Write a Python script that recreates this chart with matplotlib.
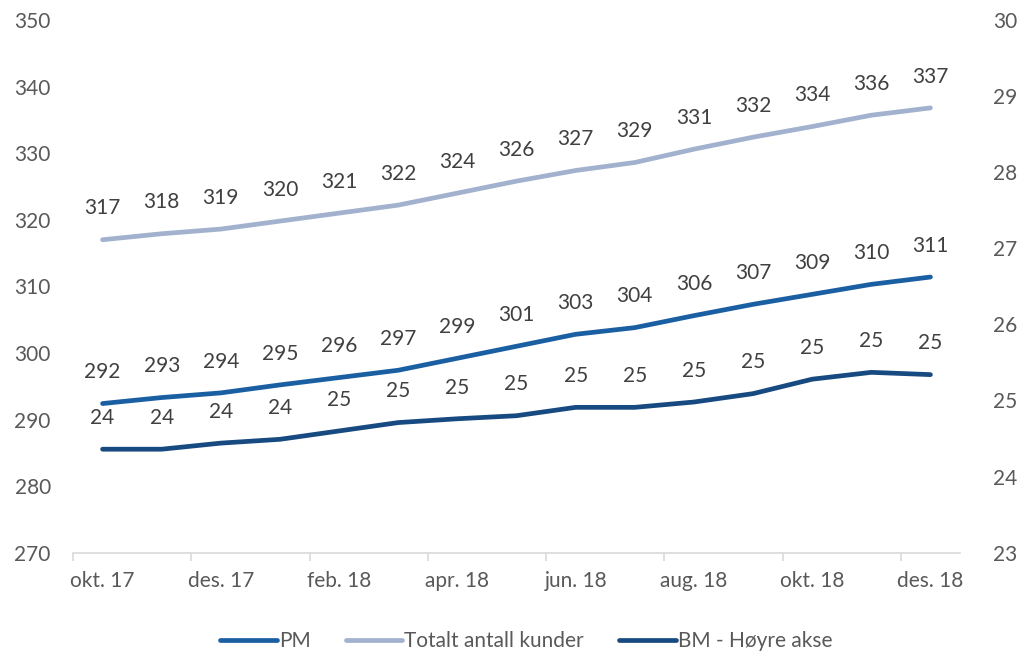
import matplotlib
matplotlib.use("Agg")
import matplotlib.pyplot as plt

plt.rcParams["font.family"] = ["Lato", "DejaVu Sans"]

months = ["okt. 17", "nov. 17", "des. 17", "jan. 18", "feb. 18", "mar. 18", "apr. 18",
          "mai. 18", "jun. 18", "jul. 18", "aug. 18", "sep. 18", "okt. 18", "nov. 18", "des. 18"]
pm = [292.4, 293.3, 294.0, 295.2, 296.3, 297.4, 299.2, 301.0,
      302.8, 303.8, 305.6, 307.3, 308.8, 310.3, 311.4]
total = [317.0, 317.9, 318.6, 319.8, 321.0, 322.2, 324.0, 325.8,
         327.4, 328.6, 330.6, 332.4, 334.0, 335.7, 336.8]
bm = [24.36, 24.36, 24.44, 24.49, 24.60, 24.71, 24.76, 24.80,
      24.91, 24.91, 24.98, 25.09, 25.28, 25.37, 25.34]

PM_COLOR = "#1B5FA3"
TOTAL_COLOR = "#A2B1CE"
BM_COLOR = "#174A80"
LABEL_COLOR = "#404040"
TICK_COLOR = "#595959"
AXIS_COLOR = "#D9D9D9"
FONT_SIZE = 15

fig = plt.figure(figsize=(10.24, 6.52), dpi=100)
ax = fig.add_axes([73 / 1024, 1 - 552.7 / 652, (960 - 73) / 1024, (552.7 - 20) / 652])
ax2 = ax.twinx()

x = list(range(len(months)))
line_kw = dict(linewidth=3.4, solid_capstyle="round", solid_joinstyle="round")
h_pm, = ax.plot(x, pm, color=PM_COLOR, label="PM", **line_kw)
h_tot, = ax.plot(x, total, color=TOTAL_COLOR, label="Totalt antall kunder", **line_kw)
h_bm, = ax2.plot(x, bm, color=BM_COLOR, label="BM - Høyre akse", **line_kw)


def label_points(axis, xs, ys):
    for xi, yi in zip(xs, ys):
        axis.annotate(f"{yi:.0f}", (xi, yi), xytext=(0, 22.5), textcoords="offset points",
                      ha="center", va="center", fontsize=FONT_SIZE, color=LABEL_COLOR)


label_points(ax, x, pm)
label_points(ax, x, total)
label_points(ax2, x, bm)

ax.set_xlim(-0.5, len(months) - 0.5)
ax.set_ylim(270, 350)
ax.set_yticks(range(270, 351, 10))
ax2.set_ylim(23, 30)
ax2.set_yticks(range(23, 31))

ax.set_xticks(x[::2])
ax.set_xticklabels(months[::2])
ax.set_xticks([i - 0.5 for i in range(0, len(months) + 1, 2)], minor=True)
ax.tick_params(axis="x", which="major", length=0, pad=13, labelsize=FONT_SIZE, labelcolor=TICK_COLOR)
ax.tick_params(axis="x", which="minor", length=6, width=1.2, color=AXIS_COLOR)
ax.tick_params(axis="y", length=0, pad=16, labelsize=FONT_SIZE, labelcolor=TICK_COLOR)
ax2.tick_params(axis="y", length=0, pad=24, labelsize=FONT_SIZE, labelcolor=TICK_COLOR)

for a in (ax, ax2):
    for side in ("top", "left", "right"):
        a.spines[side].set_visible(False)
    a.spines["bottom"].set_color(AXIS_COLOR)
    a.spines["bottom"].set_linewidth(1.2)
ax2.spines["bottom"].set_visible(False)

fig.legend(handles=[h_pm, h_tot, h_bm], loc="center", bbox_to_anchor=(0.514, 1 - 641 / 652),
           ncol=3, frameon=False, fontsize=FONT_SIZE, labelcolor=TICK_COLOR,
           handlelength=2.7, handletextpad=0.1, columnspacing=1.7)

fig.savefig("out.png", dpi=100)
